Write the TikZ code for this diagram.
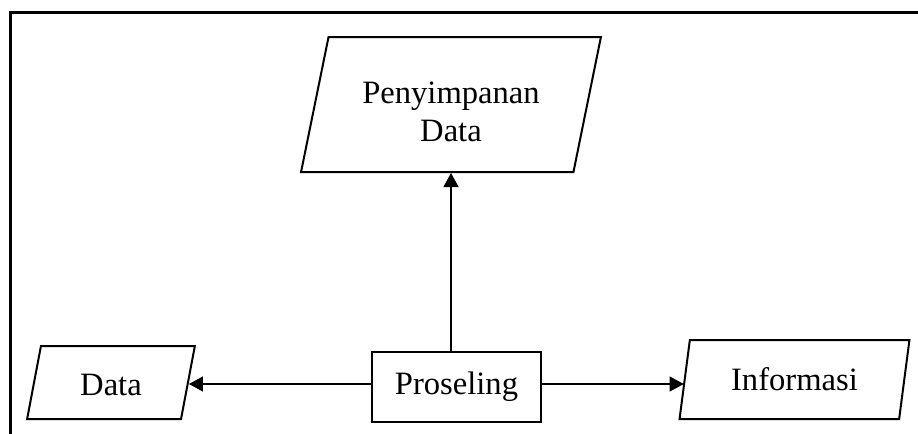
\documentclass[tikz,border=0pt]{standalone}
\usepackage{fontspec}
\setmainfont{Liberation Serif}
\usetikzlibrary{shapes.geometric,arrows.meta}
\begin{document}
\begin{tikzpicture}[x=0.5pt,y=-0.5pt,
  every node/.style={font=\fontsize{16.3}{19}\selectfont, align=center, inner sep=0pt},
  io/.style={draw, line width=1pt, trapezium, trapezium stretches=true},
  procbox/.style={draw, line width=1.1pt, rectangle},
  arr/.style={line width=0.6pt, -{Triangle[length=7pt,width=7.5pt]}},
  frameline/.style={line width=1.5pt}]
\useasboundingbox (0,0) rectangle (918,434);
\draw[frameline] (10.3,434) |- (918,12.5);
\node[io, trapezium left angle=75, trapezium right angle=105, minimum width=150pt, minimum height=67.5pt] (S) at (451,104.5) {\rule{0pt}{18pt}Penyimpanan\\Data};
\node[io, trapezium left angle=77, trapezium right angle=103, minimum width=84pt, minimum height=36.5pt] (D) at (111,382.5) {\rule{0pt}{13pt}Data};
\node[io, trapezium left angle=75, trapezium right angle=105, minimum width=115.5pt, minimum height=39.5pt] (I) at (794.5,379.5) {Informasi};
\node[procbox, minimum width=84.5pt, minimum height=35pt] (P) at (456.5,387) {Proseling};
\draw[arr] (S.south |- P.north) -- (S.south);
\draw[arr] ([yshift=1.5pt]P.west) -- ([yshift=1.5pt]P.west -| D.east);
\draw[arr] ([yshift=1.5pt]P.east) -- ([yshift=1.5pt]P.east -| I.west);
\end{tikzpicture}
\end{document}
